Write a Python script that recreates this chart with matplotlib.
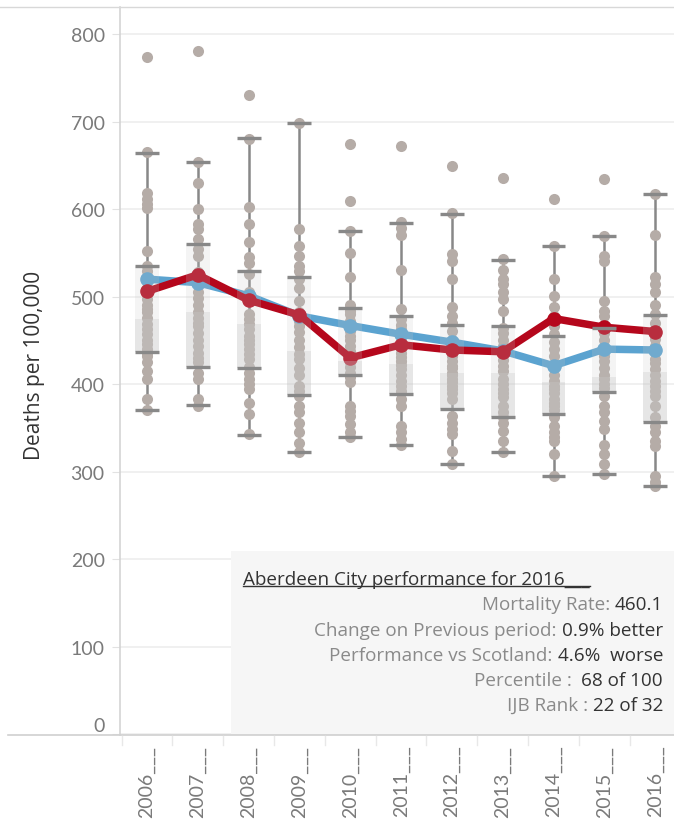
import matplotlib
matplotlib.use("Agg")
import matplotlib.pyplot as plt
import matplotlib.transforms as mtransforms
from matplotlib.lines import Line2D
from matplotlib.patches import Rectangle

plt.rcParams["font.family"] = ["Lato", "DejaVu Sans"]
PANEL_FONT = ["Open Sans", "DejaVu Sans"]

years = ["2006", "2007", "2008", "2009", "2010", "2011", "2012", "2013", "2014", "2015", "2016"]
year_labels = [y + "___" for y in years]

# Scotland (blue) and Aberdeen City (red) mortality rates
scotland = [520, 516, 501, 478, 467, 457, 448, 438, 421, 440, 439]
aberdeen = [506, 525, 496, 479, 430, 445, 439, 437, 475, 465, 460.1]

# box plot summary per year (all partnerships)
whisker_hi = [664, 654, 681, 699, 575, 584, 595, 542, 558, 569, 617]
q3 = [535, 560, 529, 523, 487, 478, 468, 467, 455, 464, 479]
median = [475, 483, 469, 438, 426, 423, 413, 413, 402, 408, 414]
q1 = [437, 420, 418, 388, 411, 389, 372, 363, 366, 391, 357]
whisker_lo = [370, 376, 342, 323, 340, 331, 309, 323, 295, 297, 284]

# individual partnership rates
rates_2006 = [774, 665, 619, 612, 606, 601, 552, 535, 529, 520, 510, 503, 497, 490, 486, 482, 476,
              469, 463, 457, 451, 446, 440, 436, 432, 425, 415, 406, 383, 371]
rates_2007 = [781, 654, 630, 600, 583, 577, 566, 554, 547, 528, 520, 516, 505, 499, 490, 482, 476,
              470, 466, 459, 451, 444, 436, 430, 425, 413, 406, 383, 375]
rates_2008 = [731, 680, 602, 583, 562, 545, 539, 526, 505, 497, 480, 474, 469, 463, 455, 450, 446,
              440, 434, 429, 420, 413, 406, 400, 394, 378, 366, 343]
rates_2009 = [699, 577, 558, 547, 535, 529, 520, 510, 495, 482, 472, 467, 460, 451, 442, 434, 429,
              419, 410, 398, 392, 387, 375, 368, 356, 345, 333, 322]
rates_2010 = [674, 609, 575, 550, 522, 491, 484, 480, 472, 466, 461, 455, 451, 444, 438, 433, 429,
              425, 420, 413, 408, 402, 375, 369, 364, 354, 345, 340]
rates_2011 = [672, 585, 579, 571, 531, 486, 474, 468, 463, 455, 448, 441, 436, 431, 427, 422, 417,
              410, 404, 398, 392, 383, 375, 352, 345, 337, 331]
rates_2012 = [649, 596, 549, 541, 520, 488, 478, 470, 461, 451, 442, 432, 426, 421, 418, 413, 410,
              406, 402, 398, 395, 390, 383, 364, 356, 349, 343, 324, 309]
rates_2013 = [636, 543, 530, 520, 514, 505, 497, 484, 464, 458, 451, 444, 434, 428, 421, 415, 406,
              400, 394, 390, 385, 375, 368, 362, 356, 347, 335, 322]
rates_2014 = [612, 558, 520, 501, 488, 478, 466, 457, 448, 440, 432, 421, 410, 404, 398, 394, 390,
              383, 379, 375, 370, 362, 352, 345, 340, 335, 320, 295]
rates_2015 = [634, 569, 547, 541, 495, 484, 478, 463, 458, 450, 441, 432, 426, 419, 411, 406, 400,
              396, 387, 375, 368, 358, 349, 330, 320, 309, 297]
rates_2016 = [617, 571, 522, 514, 505, 491, 480, 470, 460, 452, 444, 437, 429, 424, 417, 410, 404,
              398, 392, 387, 375, 362, 352, 345, 335, 329, 295, 288, 284]
area_rates = [rates_2006, rates_2007, rates_2008, rates_2009, rates_2010, rates_2011,
              rates_2012, rates_2013, rates_2014, rates_2015, rates_2016]

info_title = "Aberdeen City performance for 2016___"
info_labels = ["Mortality Rate: ", "Change on Previous period: ", "Performance vs Scotland: ",
               "Percentile :  ", "IJB Rank : "]
info_values = ["460.1", "0.9% better", "4.6%  worse", "68 of 100", "22 of 32"]

W, H = 674, 829


def fpos(px, py):
    return px / W, 1 - py / H


fig = plt.figure(figsize=(W / 100, H / 100), dpi=100)
ax = fig.add_axes([120 / W, 1 - 736 / H, 554 / W, 728 / H])

x = list(range(len(years)))
grey_txt = "#7a7a7a"

# whisker stems under the dots
ax.vlines(x, whisker_lo, whisker_hi, color="#888888", lw=1.8, zorder=1.5)

# dots
for i, vals in enumerate(area_rates):
    ax.scatter([i] * len(vals), vals, s=64, color="#b5aca7", linewidths=0, zorder=2)

# lines
ax.plot(x, scotland, color="#5ba3d0", lw=5.4, marker="o", ms=9.5, zorder=3)
ax.plot(x, aberdeen, color="#b5071c", lw=5.4, marker="o", ms=9.5, zorder=4)

# boxes
hw = 0.235
for i in x:
    ax.add_patch(Rectangle((i - hw, median[i]), 2 * hw, q3[i] - median[i],
                           fc="#c8c8c8", alpha=0.2, lw=0, zorder=5))
    ax.add_patch(Rectangle((i - hw, q1[i]), 2 * hw, median[i] - q1[i],
                           fc="#c8c8c8", alpha=0.45, lw=0, zorder=5))
for arr in (whisker_lo, whisker_hi, q1, q3):
    ax.hlines(arr, [i - hw for i in x], [i + hw for i in x], color="#888888", lw=2.4, zorder=6)

ax.set_xlim(-0.53, 10.37)
ax.set_ylim(-1, 831)
ax.set_yticks(range(0, 900, 100))
ax.yaxis.grid(True, color="#eeeeee", lw=1.2)
ax.set_axisbelow(True)
for s in ("top", "right", "bottom"):
    ax.spines[s].set_visible(False)
ax.spines["left"].set_color("#d4d4d4")
ax.spines["left"].set_linewidth(1.2)
ax.tick_params(axis="y", length=6, color="#e2e2e2", labelcolor=grey_txt, labelsize=14, pad=5)
ax.set_xticks(x)
ax.set_xticklabels(year_labels, rotation=90)
ax.tick_params(axis="x", length=0, labelcolor=grey_txt, labelsize=14, pad=7)
ax.yaxis.get_major_ticks()[0].label1.set_va("bottom")

fig.text(*fpos(35, 365), "Deaths per 100,000", rotation=90, ha="center", va="center",
         fontsize=15, color="#333333", family=PANEL_FONT)

# frame lines
fig.add_artist(Line2D([0, 1], [fpos(0, 8)[1]] * 2, transform=fig.transFigure, color="#d8d8d8", lw=1))
fig.add_artist(Line2D([fpos(8, 0)[0], 1], [fpos(0, 736)[1]] * 2, transform=fig.transFigure,
                      color="#d0d0d0", lw=1.2))
blend = mtransforms.blended_transform_factory(ax.transData, fig.transFigure)
for b in range(len(years)):
    bx = b - 0.5
    fig.add_artist(Line2D([bx, bx], [fpos(0, 737)[1], fpos(0, 746)[1]], transform=blend,
                          color="#e8e8e8", lw=1))

# info panel
x0, y0 = fpos(231, 735)
x1, y1 = fpos(674, 552)
fig.add_artist(Rectangle((x0, y0), x1 - x0, y1 - y0, transform=fig.transFigure,
                         fc="#f6f6f6", ec="none", zorder=7))
title = fig.text(*fpos(243, 580), info_title, ha="left", va="center", fontsize=13.6,
                 color="#333333", zorder=8, family=PANEL_FONT)
row_y = [605, 631, 656, 681, 706]
value_texts = []
for val, py in zip(info_values, row_y):
    value_texts.append(fig.text(*fpos(663, py), val, ha="right", va="center", fontsize=13.6,
                                color="#333333", zorder=8, family=PANEL_FONT))

fig.canvas.draw()
for lab, v, py in zip(info_labels, value_texts, row_y):
    vb = v.get_window_extent()
    fig.text(vb.x0 / W, 1 - py / H, lab, ha="right", va="center", fontsize=13.6,
             color="#8a8a8a", zorder=8, family=PANEL_FONT)
bb = title.get_window_extent()
fig.add_artist(Line2D([bb.x0, bb.x1], [bb.y0 + 2, bb.y0 + 2],
                      transform=mtransforms.IdentityTransform(), color="#333333", lw=1, zorder=8))

fig.savefig("out.png", dpi=100)
